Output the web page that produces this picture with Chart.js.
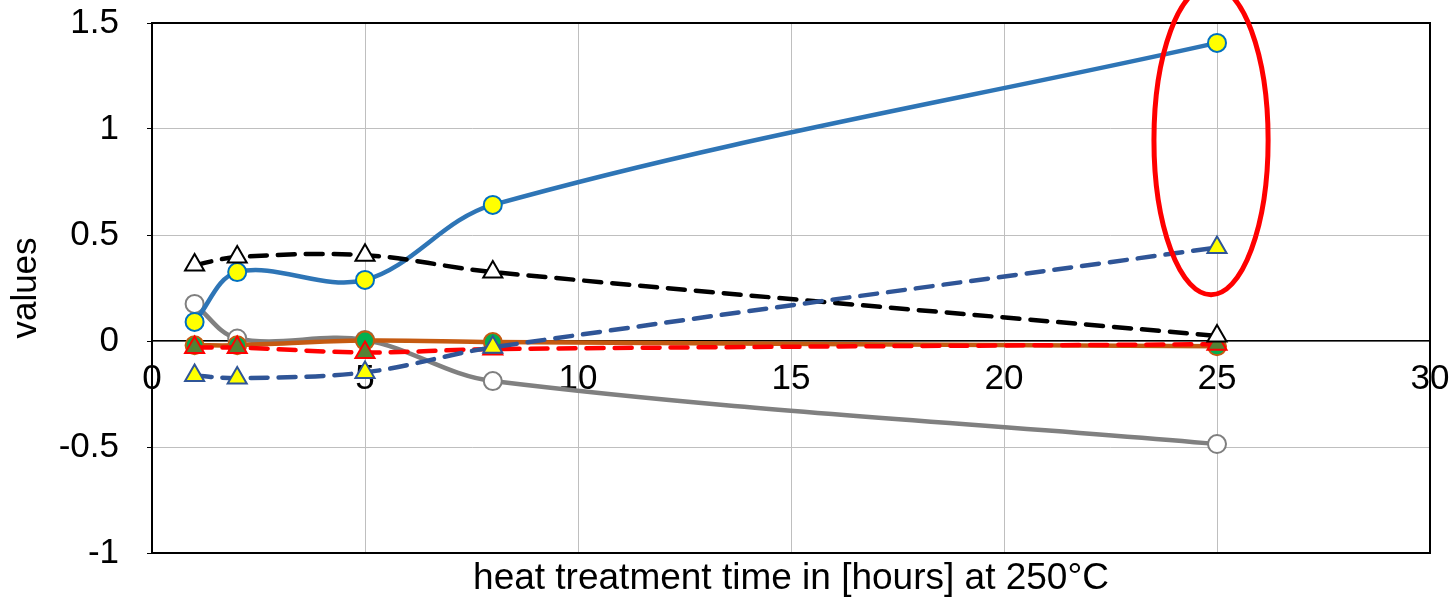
<!DOCTYPE html>
<html>
<head>
<meta charset="utf-8">
<script src="https://cdn.jsdelivr.net/npm/chart.js@4/dist/chart.umd.min.js"></script>
<style>
html,body{margin:0;padding:0;background:#fff;}
#wrap{width:1452px;height:601px;}
</style>
</head>
<body>
<div id="wrap"><canvas id="c" width="1452" height="601"></canvas></div>
<script>
// ---- data ----
const hours = [1, 2, 5, 8, 25];
const blueSolidValues   = [0.09, 0.325, 0.288, 0.642, 1.406];
const graySolidValues   = [0.175, 0.012, 0.005, -0.189, -0.486];
const blackDashedValues = [0.358, 0.396, 0.405, 0.325, 0.024];
const blueDashedValues  = [-0.163, -0.175, -0.148, -0.03, 0.441];
const orangeSolidValues = [-0.02, -0.02, 0.002, -0.005, -0.025];
const redDashedValues   = [-0.031, -0.031, -0.054, -0.038, -0.015];
const xTickStep = 5, xMin = 0, xMax = 30;
const yMin = -1, yMax = 1.5, yTickStep = 0.5;
const xTitle = 'heat treatment time in [hours] at 250°C';
const yTitle = 'values';
// highlight ellipse (in data units)
const ellipse = {cx: 24.86, cy: 0.948, rx: 1.34, ry: 0.73};

const FONT = "'Liberation Sans', Arial, sans-serif";
const pts = v => hours.map((h, i) => ({x: h, y: v[i]}));
const DASH = [17, 11];

function ds(label, values, color, dashed, pointStyle, fill, pborder, radius, order) {
  return {
    label, data: pts(values), borderColor: color, borderWidth: 4.5,
    borderDash: dashed ? DASH : [], borderCapStyle: dashed ? 'round' : 'butt',
    tension: 0.35, fill: false,
    pointStyle, pointRadius: radius, pointHoverRadius: radius,
    pointBackgroundColor: fill, pointBorderColor: pborder, pointBorderWidth: 2,
    order
  };
}

const frame = {
  id: 'frame',
  beforeDatasetsDraw(chart) {
    const {ctx, chartArea: a} = chart;
    ctx.save();
    ctx.strokeStyle = '#000';
    ctx.lineWidth = 2;
    ctx.strokeRect(a.left, a.top, a.right - a.left, a.bottom - a.top);
    ctx.restore();
  }
};
const ring = {
  id: 'ring',
  afterDatasetsDraw(chart) {
    const {ctx, scales: {x, y}} = chart;
    const cx = x.getPixelForValue(ellipse.cx), cy = y.getPixelForValue(ellipse.cy);
    const rx = Math.abs(x.getPixelForValue(ellipse.cx + ellipse.rx) - cx);
    const ry = Math.abs(y.getPixelForValue(ellipse.cy + ellipse.ry) - cy);
    ctx.save();
    ctx.beginPath();
    ctx.ellipse(cx, cy, rx, ry, 0, 0, Math.PI * 2);
    ctx.strokeStyle = '#FF0000';
    ctx.lineWidth = 5;
    ctx.stroke();
    ctx.restore();
  }
};
function noPad(s) { s.paddingTop = 0; s.paddingBottom = 0; s.paddingLeft = 0; s.paddingRight = 0; }

new Chart(document.getElementById('c'), {
  type: 'line',
  data: {
    datasets: [
      ds('s1', blueSolidValues, '#2E75B6', false, 'circle', '#FFFF00', '#0070C0', 9, 3),
      ds('s2', graySolidValues, '#808080', false, 'circle', '#FFFFFF', '#7F7F7F', 9, 6),
      ds('s3', blackDashedValues, '#000000', true, 'triangle', '#FFFFFF', '#000000', 11, 2),
      ds('s4', blueDashedValues, '#2F5597', true, 'triangle', '#FFFF00', '#2F5597', 11, 1),
      ds('s5', orangeSolidValues, '#C55A11', false, 'circle', '#00B050', '#C55A11', 9, 5),
      ds('s6', redDashedValues, '#FF0000', true, 'triangle', '#548235', '#FF0000', 11, 4)
    ]
  },
  options: {
    responsive: false,
    animation: false,
    layout: {padding: {left: 0, right: 22, top: 23, bottom: 0}},
    plugins: {legend: {display: false}, tooltip: {enabled: false}},
    scales: {
      x: {
        type: 'linear', position: {y: 0}, min: xMin, max: xMax,
        ticks: {stepSize: xTickStep, color: '#000', font: {family: FONT, size: 35}, padding: 17, maxRotation: 0,
                callback: v => String(v)},
        grid: {color: '#BFBFBF', lineWidth: 1, drawTicks: false},
        border: {color: '#000', width: 1.5},
        afterFit: noPad
      },
      x2: {
        type: 'linear', position: 'bottom', min: xMin, max: xMax,
        ticks: {display: false}, grid: {display: false}, border: {display: false},
        title: {display: true, text: xTitle, color: '#000', font: {family: FONT, size: 37}, padding: {top: 6, bottom: 0}},
        afterFit(s) { noPad(s); s.height = 48; }
      },
      y: {
        type: 'linear', position: 'left', min: yMin, max: yMax,
        ticks: {stepSize: yTickStep, color: '#000', font: {family: FONT, size: 35}, padding: 28,
                callback: v => String(v)},
        grid: {color: '#BFBFBF', lineWidth: 1, tickLength: 5, tickColor: '#000'},
        border: {color: '#000', width: 2},
        title: {display: true, text: yTitle, color: '#000', font: {family: FONT, size: 35}, padding: {top: 5, bottom: 0}},
        afterFit(s) { noPad(s); s.width = 152; }
      }
    }
  },
  plugins: [frame, ring]
});
</script>
</body>
</html>
